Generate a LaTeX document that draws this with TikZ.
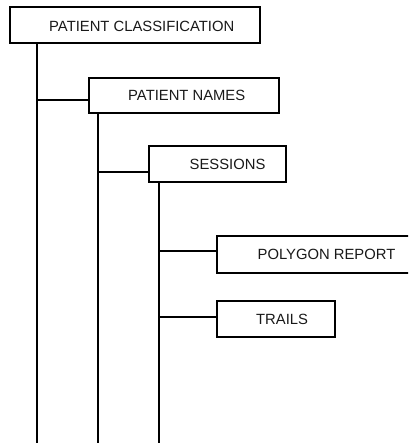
\documentclass[tikz,border=0pt]{standalone}
\usepackage{fontspec}
\setmainfont{Liberation Sans}
\begin{document}
\begin{tikzpicture}[x=1pt,y=-1pt,
  box/.style={draw=black, line width=2pt, rectangle, inner sep=0pt, fill=white},
  lbl/.style={anchor=west, inner sep=0pt, font=\fontsize{14.8}{17}\selectfont, text=black!90},
  conn/.style={draw=black, line width=2pt}]
\useasboundingbox (0,0) rectangle (408,443);
\clip (0,0) rectangle (408,443);
% coordinates for connector ends
\coordinate (v1bot) at (37,443);
\coordinate (v2bot) at (98,443);
\coordinate (v3bot) at (159,443);
\coordinate (j2) at (37,100);
\coordinate (j3) at (98,172);
\coordinate (j4) at (159,251);
\coordinate (j5) at (159,317);
% boxes
\node[box, minimum width=250pt, minimum height=36pt] (b1) at (135,25) {};
\node[box, minimum width=190pt, minimum height=35pt] (b2) at (184,95.5) {};
\node[box, minimum width=137pt, minimum height=36pt] (b3) at (217.5,164) {};
\node[box, minimum width=198pt, minimum height=37pt] (b4) at (316,254.5) {};
\node[box, minimum width=118pt, minimum height=36pt] (b5) at (276,319) {};
% labels
\node[lbl] (t1) at ([xshift=40pt,yshift=-1pt]b1.west) {PATIENT CLASSIFICATION};
\node[lbl] (t2) at ([xshift=40pt]b2.west) {PATIENT NAMES};
\node[lbl] (t3) at ([xshift=41.5pt]b3.west) {SESSIONS};
\node[lbl] (t4) at ([xshift=41.5pt]b4.west) {POLYGON REPORT};
\node[lbl] (t5) at ([xshift=40pt]b5.west) {TRAILS};
% connectors
\draw[conn] (b1.south -| v1bot) -- (v1bot);
\draw[conn] (b2.south -| v2bot) -- (v2bot);
\draw[conn] (b3.south -| v3bot) -- (v3bot);
\draw[conn] (j2) -- (j2 -| b2.west);
\draw[conn] (j3) -- (j3 -| b3.west);
\draw[conn] (j4) -- (j4 -| b4.west);
\draw[conn] (j5) -- (j5 -| b5.west);
\end{tikzpicture}
\end{document}
